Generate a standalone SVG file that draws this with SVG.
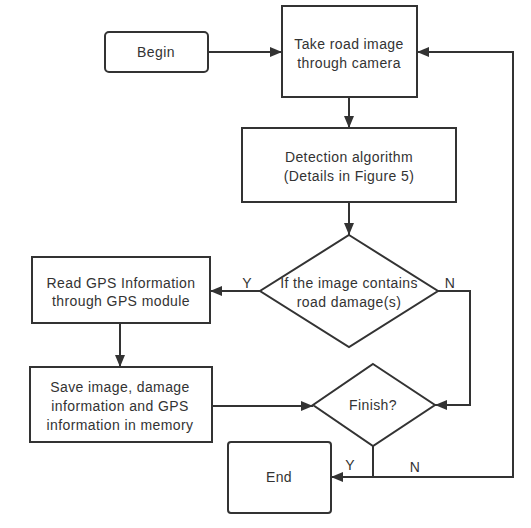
<svg xmlns="http://www.w3.org/2000/svg" width="531" height="528" viewBox="0 0 531 528">
<defs>
<style>
.n{fill:#fff;stroke:#333;stroke-width:2}
.t{font-family:"Liberation Sans",Arial,sans-serif;font-size:14px;fill:#333;text-anchor:middle;letter-spacing:0.4px}
.c{fill:none;stroke:#333;stroke-width:2}
</style>
<marker id="a" viewBox="0 0 12 10" refX="12" refY="5" markerWidth="12" markerHeight="10" markerUnits="userSpaceOnUse" orient="auto">
<path d="M0,0 L12,5 L0,10 Z" fill="#333"/>
</marker>
</defs>
<rect width="531" height="528" fill="#fff"/>
<g id="connectors">
<path class="c" d="M208,52 H282" marker-end="url(#a)"/>
<path class="c" d="M349,97 V128" marker-end="url(#a)"/>
<path class="c" d="M349,202 V235" marker-end="url(#a)"/>
<path class="c" d="M260,291 H210" marker-end="url(#a)"/>
<path class="c" d="M438,291 H470 V405 H435" marker-end="url(#a)"/>
<path class="c" d="M120,323 V367" marker-end="url(#a)"/>
<path class="c" d="M212,406 H313" marker-end="url(#a)"/>
<path class="c" d="M373,446 V477 H331" marker-end="url(#a)"/>
<path class="c" d="M373,477 H513 V52 H417" marker-end="url(#a)"/>
<text class="t" x="247" y="288">Y</text>
<text class="t" x="450" y="288">N</text>
<text class="t" x="350" y="470">Y</text>
<text class="t" x="415" y="472">N</text>
</g>
<g id="begin">
<rect class="n" x="105" y="32" width="103" height="40" rx="4"/>
<text class="t" x="156" y="57">Begin</text>
</g>
<g id="take">
<rect class="n" x="282" y="6" width="135" height="91"/>
<text class="t" x="349" y="49">Take road image</text>
<text class="t" x="349" y="68">through camera</text>
</g>
<g id="detect">
<rect class="n" x="242" y="128" width="214" height="74"/>
<text class="t" x="349" y="162">Detection algorithm</text>
<text class="t" x="349" y="181">(Details in Figure 5)</text>
</g>
<g id="contains">
<polygon class="n" points="349,235 438,291 349,347 260,291"/>
<text class="t" x="349" y="288">If the image contains</text>
<text class="t" x="349" y="307">road damage(s)</text>
</g>
<g id="gps">
<rect class="n" x="32" y="257" width="178" height="66"/>
<text class="t" x="121" y="288">Read GPS Information</text>
<text class="t" x="121" y="306">through GPS module</text>
</g>
<g id="save">
<rect class="n" x="30" y="367" width="182" height="75"/>
<text class="t" x="120" y="392">Save image, damage</text>
<text class="t" x="120" y="411">information and GPS</text>
<text class="t" x="120" y="430">information in memory</text>
</g>
<g id="finish">
<polygon class="n" points="373,364 435,405 373,446 313,405"/>
<text class="t" x="373" y="410">Finish?</text>
</g>
<g id="end">
<rect class="n" x="228" y="442" width="103" height="71" rx="3"/>
<text class="t" x="279" y="482">End</text>
</g>
</svg>
